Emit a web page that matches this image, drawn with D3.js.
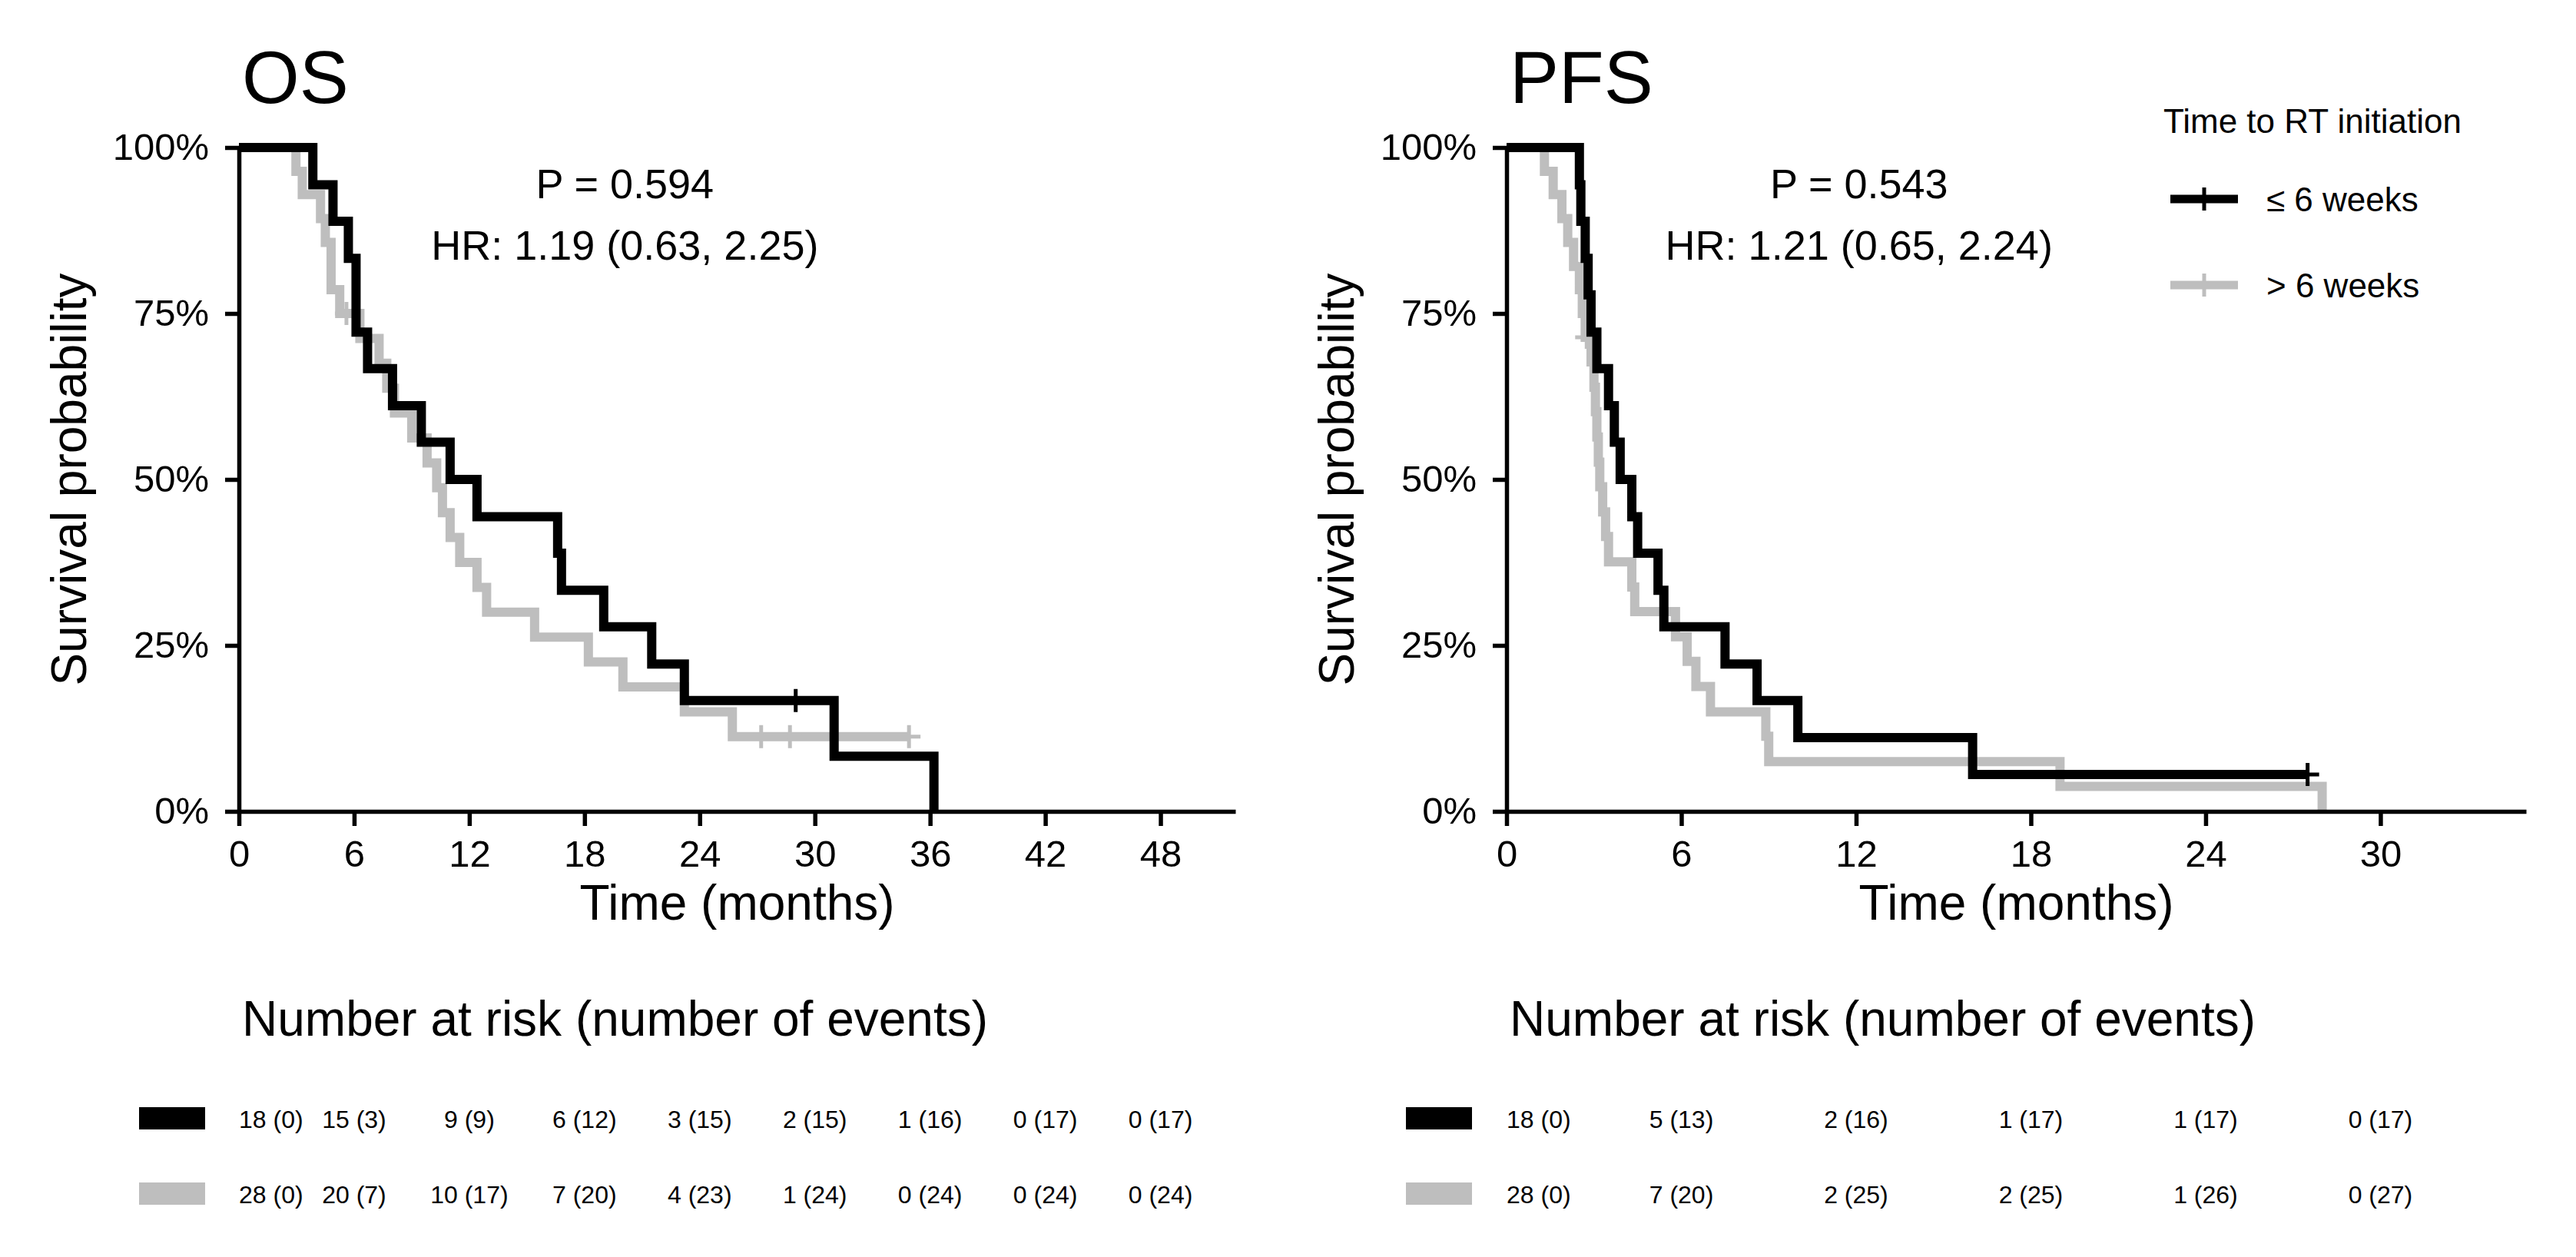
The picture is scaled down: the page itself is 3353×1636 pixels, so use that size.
<!DOCTYPE html>
<html lang="en">
<head>
<meta charset="UTF-8">
<script src="https://d3js.org/d3.v7.min.js"></script>
<title>OS / PFS by time to RT initiation</title>
<style>
  body { margin: 0; background: #fff; }
  text { font-family: "Liberation Sans", Arial, sans-serif; fill: #000; }
</style>
</head>
<body>
<div id="chart"></div>
<script>
// ---- data ----
const groups = ["\u2264 6 weeks", "> 6 weeks"];
const groupColors = ["#000000", "#bebebe"];

// OS, <= 6 weeks : [months, survival %]
const osShort = [[0,100],[3.85,94.4],[4.9,88.9],[5.7,83.3],[6.1,72.2],[6.7,66.7],[8.0,61.1],[9.5,55.6],
  [11.0,50.0],[12.4,44.4],[16.6,38.9],[16.8,33.3],[19.0,27.8],[21.5,22.2],[23.2,16.7],[31.0,8.3],[36.2,0]];
const osShortCensor = [[29.0,16.7]];
// OS, > 6 weeks
const osLong = [[0,100],[2.97,96.4],[3.3,92.9],[4.25,89.3],[4.5,85.7],[4.8,78.6],[5.25,75.0],[6.3,71.25],
  [7.3,67.5],[7.7,63.75],[8.1,60.0],[9.0,56.25],[9.8,52.5],[10.3,48.75],[10.6,45.0],[11.0,41.25],[11.5,37.5],
  [12.4,33.75],[12.9,30.0],[15.4,26.25],[18.2,22.5],[20.0,18.75],[23.2,15.0],[25.7,11.25],[34.9,11.25]];
const osLongCensor = [[5.6,75.0],[27.2,11.25],[28.7,11.25],[34.9,11.25]];

// PFS, <= 6 weeks
const pfsShort = [[0,100],[2.5,94.4],[2.55,88.9],[2.7,83.3],[2.8,77.8],[2.9,72.2],[3.1,66.7],[3.5,61.1],
  [3.7,55.6],[3.9,50.0],[4.3,44.4],[4.5,38.9],[5.2,33.3],[5.4,27.8],[7.5,22.2],[8.6,16.7],[10.0,11.1],
  [16.0,5.56],[27.5,5.56]];
const pfsShortCensor = [[27.5,5.56]];
// PFS, > 6 weeks
const pfsLong = [[0,100],[1.3,96.4],[1.6,92.9],[1.9,89.3],[2.1,85.7],[2.3,82.1],[2.5,78.6],[2.6,75.0],
  [2.7,71.4],[2.9,67.7],[3.0,63.9],[3.05,60.2],[3.1,56.4],[3.15,52.6],[3.2,48.9],[3.3,45.1],[3.4,41.4],
  [3.5,37.6],[4.3,33.8],[4.4,30.1],[5.8,26.3],[6.2,22.6],[6.5,18.8],[7.0,15.0],[8.9,11.3],[9.0,7.5],
  [19.0,3.76],[28.0,0]];
const pfsLongCensor = [[2.75,71.4]];

const osTicks = [0, 6, 12, 18, 24, 30, 36, 42, 48];
const pfsTicks = [0, 6, 12, 18, 24, 30];
const yTicks = [0, 25, 50, 75, 100];

// number at risk (number of events)
const osRiskShort = ["18 (0)", "15 (3)", "9 (9)", "6 (12)", "3 (15)", "2 (15)", "1 (16)", "0 (17)", "0 (17)"];
const osRiskLong  = ["28 (0)", "20 (7)", "10 (17)", "7 (20)", "4 (23)", "1 (24)", "0 (24)", "0 (24)", "0 (24)"];
const pfsRiskShort = ["18 (0)", "5 (13)", "2 (16)", "1 (17)", "1 (17)", "0 (17)"];
const pfsRiskLong  = ["28 (0)", "7 (20)", "2 (25)", "2 (25)", "1 (26)", "0 (27)"];

// ---- drawing ----
const W = 3353, H = 1636;
const svg = d3.select("#chart").append("svg")
    .attr("width", W).attr("height", H);
svg.append("rect").attr("width", W).attr("height", H).attr("fill", "#fff");

const yTop = 192, yBot = 1056;

function panel(opt) {
    const x = d3.scaleLinear().domain([0, opt.xmax]).range([opt.left, opt.right]);
    const y = d3.scaleLinear().domain([0, 100]).range([yBot, yTop]);
    const g = svg.append("g");

    // title
    g.append("text").attr("x", opt.left + 4).attr("y", 134)
        .attr("font-size", 96).text(opt.title);

    // curves (grey first so black sits on top)
    const line = d3.line().x(d => x(d[0])).y(d => y(d[1])).curve(d3.curveStepAfter);
    const curves = [opt.long, opt.short];
    const censors = [opt.longCensor, opt.shortCensor];
    const cols = [groupColors[1], groupColors[0]];
    curves.forEach((c, i) => {
        g.append("path").datum(c).attr("d", line)
            .attr("fill", "none").attr("stroke", cols[i])
            .attr("stroke-width", 12).attr("stroke-linejoin", "miter");
        g.selectAll(null).data(censors[i]).enter().append("path")
            .attr("d", d => `M${x(d[0])},${y(d[1]) - 15}V${y(d[1]) + 15}M${x(d[0]) - 15},${y(d[1])}H${x(d[0]) + 15}`)
            .attr("stroke", cols[i]).attr("stroke-width", 5).attr("fill", "none");
    });

    // axes
    const ax = g.append("g").attr("transform", `translate(0,${yBot})`)
        .call(d3.axisBottom(x).tickValues(opt.ticks).tickSize(19).tickSizeOuter(0).tickPadding(18));
    const ay = g.append("g").attr("transform", `translate(${opt.left},0)`)
        .call(d3.axisLeft(y).tickValues(yTicks).tickFormat(d => d + "%").tickSize(18).tickSizeOuter(0).tickPadding(21));
    [ax, ay].forEach(a => {
        a.select(".domain").attr("stroke-width", 5.5).attr("stroke", "#000");
        a.selectAll(".tick line").attr("stroke-width", 5.5).attr("stroke", "#000");
        a.selectAll(".tick text").attr("font-size", 49)
            .attr("font-family", '"Liberation Sans", Arial, sans-serif').attr("fill", "#000");
    });

    // axis titles
    g.append("text").attr("x", (opt.left + opt.right) / 2).attr("y", 1197)
        .attr("text-anchor", "middle").attr("font-size", 64).text("Time (months)");
    g.append("text").attr("transform", `translate(${opt.left - 199},${(yTop + yBot) / 2}) rotate(-90)`)
        .attr("text-anchor", "middle").attr("font-size", 64).text("Survival probability");

    // p value / HR
    g.append("text").attr("x", x(opt.annX)).attr("y", 258)
        .attr("text-anchor", "middle").attr("font-size", 54).text(opt.p);
    g.append("text").attr("x", x(opt.annX)).attr("y", 338)
        .attr("text-anchor", "middle").attr("font-size", 54).text(opt.hr);

    // risk table
    g.append("text").attr("x", opt.left + 4).attr("y", 1348)
        .attr("font-size", 64).text("Number at risk (number of events)");
    const rows = [opt.riskShort, opt.riskLong];
    const rowY = [1456, 1554];
    rows.forEach((r, i) => {
        g.append("rect").attr("x", opt.keyX).attr("y", rowY[i] - 15)
            .attr("width", 86).attr("height", 29).attr("fill", groupColors[i]);
        g.selectAll(null).data(r).enter().append("text")
            .attr("x", (d, j) => x(opt.ticks[j]))
            .attr("y", rowY[i] + 12)
            .attr("text-anchor", (d, j) => j === 0 ? "start" : "middle")
            .attr("font-size", 32).text(d => d);
    });
}

panel({ title: "OS", left: 311, right: 1608, xmax: 51.9, ticks: osTicks,
    short: osShort, long: osLong, shortCensor: osShortCensor, longCensor: osLongCensor,
    annX: 20.1, p: "P = 0.594", hr: "HR: 1.19 (0.63, 2.25)",
    riskShort: osRiskShort, riskLong: osRiskLong, keyX: 181 });

panel({ title: "PFS", left: 1961, right: 3288, xmax: 35, ticks: pfsTicks,
    short: pfsShort, long: pfsLong, shortCensor: pfsShortCensor, longCensor: pfsLongCensor,
    annX: 12.1, p: "P = 0.543", hr: "HR: 1.21 (0.65, 2.24)",
    riskShort: pfsRiskShort, riskLong: pfsRiskLong, keyX: 1830 });

// legend
const lg = svg.append("g");
lg.append("text").attr("x", 2816).attr("y", 173).attr("font-size", 44).text("Time to RT initiation");
groups.forEach((name, i) => {
    const yy = 259 + i * 112;
    lg.append("line").attr("x1", 2825).attr("x2", 2913).attr("y1", yy).attr("y2", yy)
        .attr("stroke", groupColors[i]).attr("stroke-width", 11);
    lg.append("line").attr("x1", 2869).attr("x2", 2869).attr("y1", yy - 15).attr("y2", yy + 15)
        .attr("stroke", groupColors[i]).attr("stroke-width", 5);
    lg.append("text").attr("x", 2950).attr("y", yy + 16).attr("font-size", 44).text(name);
});
</script>
</body>
</html>
